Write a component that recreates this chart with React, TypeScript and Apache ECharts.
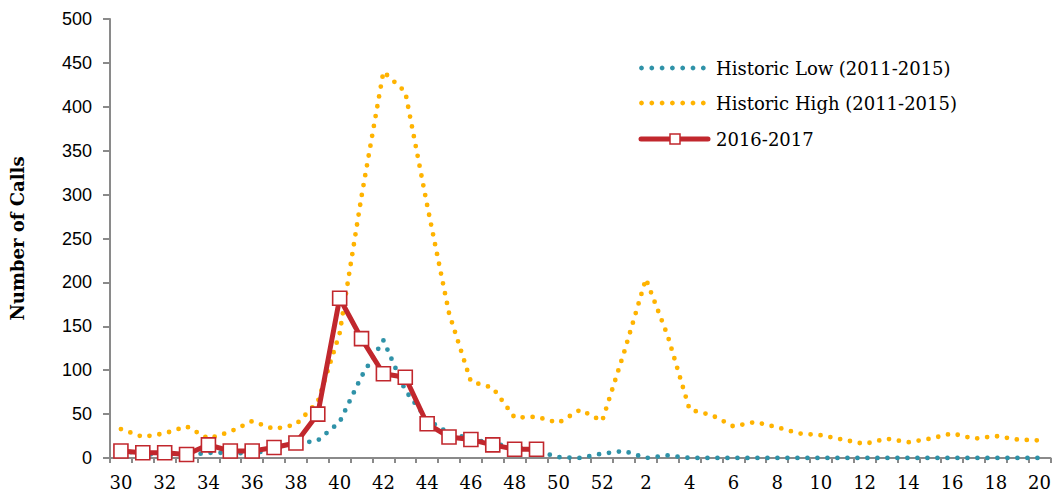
import React, { useEffect, useRef } from "react";
import * as echarts from "echarts";

const weeks: string[] = [
  "30", "31", "32", "33", "34", "35", "36", "37", "38", "39", "40", "41", "42", "43", "44", "45", "46", "47", "48", "49", "50", "51", "52",
  "1", "2", "3", "4", "5", "6", "7", "8", "9", "10", "11", "12", "13", "14", "15", "16", "17", "18", "19", "20",
];

const historicLow: number[] = [
  8, 5, 3, 3, 6, 6, 5, 10, 16, 20, 41, 93, 134, 77, 44, 28, 22, 16, 13, 8, 1, 0, 5,
  8, 0, 3, 0, 0, 0, 0, 0, 0, 0, 0, 0, 0, 0, 0, 0, 0, 0, 0, 0,
];

const historicHigh: number[] = [
  33, 24, 28, 36, 22, 30, 42, 33, 38, 64, 142, 298, 440, 417, 288, 165, 87, 80, 46, 47, 40, 55, 42,
  120, 204, 139, 55, 49, 36, 41, 35, 28, 26, 21, 16, 22, 18, 22, 28, 22, 25, 21, 20,
];

const season2016: (number | null)[] = [
  8, 6, 6, 4, 15, 8, 8, 12, 17, 50, 182, 136, 96, 92, 39, 24, 21, 15, 10, 10,
];

const seriesNames = ["Historic Low (2011-2015)", "Historic High (2011-2015)", "2016-2017"];

const SERIF = "'DejaVu Serif', serif";
const SANS = "'Liberation Sans', Arial, sans-serif";
const AXIS_GREY = "#8a8a8a";
const TEAL = "#2f92a8";
const ORANGE = "#ffb300";
const RED = "#c1272d";

function dottedIcon(x0: number, y: number, color: string) {
  const children: any[] = [];
  for (let i = 0; i < 7; i++) {
    children.push({
      type: "circle",
      shape: { cx: x0 + 2.5 + i * 10.3, cy: y, r: 2.4 },
      style: { fill: color },
    });
  }
  return children;
}

function buildLegend() {
  const left = 639;
  const rows = [68, 103, 139];
  const textX = 716;
  const children: any[] = [
    ...dottedIcon(left, rows[0], TEAL),
    ...dottedIcon(left, rows[1], ORANGE),
    {
      type: "line",
      shape: { x1: left + 2, y1: rows[2], x2: left + 69, y2: rows[2] },
      style: { stroke: RED, lineWidth: 5, lineCap: "round" },
    },
    {
      type: "rect",
      shape: { x: left + 31, y: rows[2] - 5, width: 10, height: 10 },
      style: { fill: "#ffffff", stroke: RED, lineWidth: 1.5 },
    },
  ];
  seriesNames.forEach((name, i) => {
    children.push({
      type: "text",
      style: {
        text: name,
        x: textX,
        y: rows[i],
        fill: "#000",
        font: `18px ${SERIF}`,
        verticalAlign: "middle",
        align: "left",
      },
    });
  });
  return [{ type: "group", children }];
}

export default function App() {
  const ref = useRef<HTMLDivElement>(null);

  useEffect(() => {
    document.body.style.margin = "0";
    if (!ref.current) return;
    const chart = echarts.init(ref.current, null, { renderer: "svg" });
    chart.setOption({
      animation: false,
      backgroundColor: "#ffffff",
      grid: { left: 110, top: 19, width: 943, height: 439, containLabel: false },
      legend: { show: false, data: seriesNames },
      graphic: buildLegend(),
      xAxis: {
        type: "category",
        data: weeks,
        boundaryGap: true,
        axisLine: { show: true, lineStyle: { color: AXIS_GREY, width: 2 } },
        axisTick: { show: true, interval: 0, length: 5, lineStyle: { color: AXIS_GREY, width: 2 } },
        axisLabel: { interval: 1, fontFamily: SERIF, fontSize: 18, color: "#000", margin: 15 },
        splitLine: { show: false },
      },
      yAxis: {
        type: "value",
        min: 0,
        max: 500,
        interval: 50,
        name: "Number of Calls",
        nameLocation: "middle",
        nameGap: 84,
        nameTextStyle: { fontFamily: SERIF, fontSize: 18, fontWeight: "bold", color: "#000" },
        axisLine: { show: true, lineStyle: { color: AXIS_GREY, width: 2 } },
        axisTick: { show: true, length: 7, lineStyle: { color: AXIS_GREY, width: 2 } },
        axisLabel: { fontFamily: SANS, fontSize: 18, color: "#000", margin: 18 },
        splitLine: { show: false },
      },
      series: [
        {
          name: seriesNames[0],
          type: "line",
          data: historicLow,
          symbol: "none",
          z: 2,
          lineStyle: { color: TEAL, width: 4.8, type: [0, 10], cap: "round" },
          itemStyle: { color: TEAL },
        },
        {
          name: seriesNames[1],
          type: "line",
          data: historicHigh,
          symbol: "none",
          z: 3,
          lineStyle: { color: ORANGE, width: 4.8, type: [0, 10], cap: "round" },
          itemStyle: { color: ORANGE },
        },
        {
          name: seriesNames[2],
          type: "line",
          data: season2016,
          symbol: "rect",
          symbolSize: 14,
          showSymbol: true,
          z: 5,
          lineStyle: { color: RED, width: 5 },
          itemStyle: { color: "#ffffff", borderColor: RED, borderWidth: 1.6 },
        },
      ],
    });
    return () => chart.dispose();
  }, []);

  return <div ref={ref} style={{ width: 1054, height: 492 }} />;
}
